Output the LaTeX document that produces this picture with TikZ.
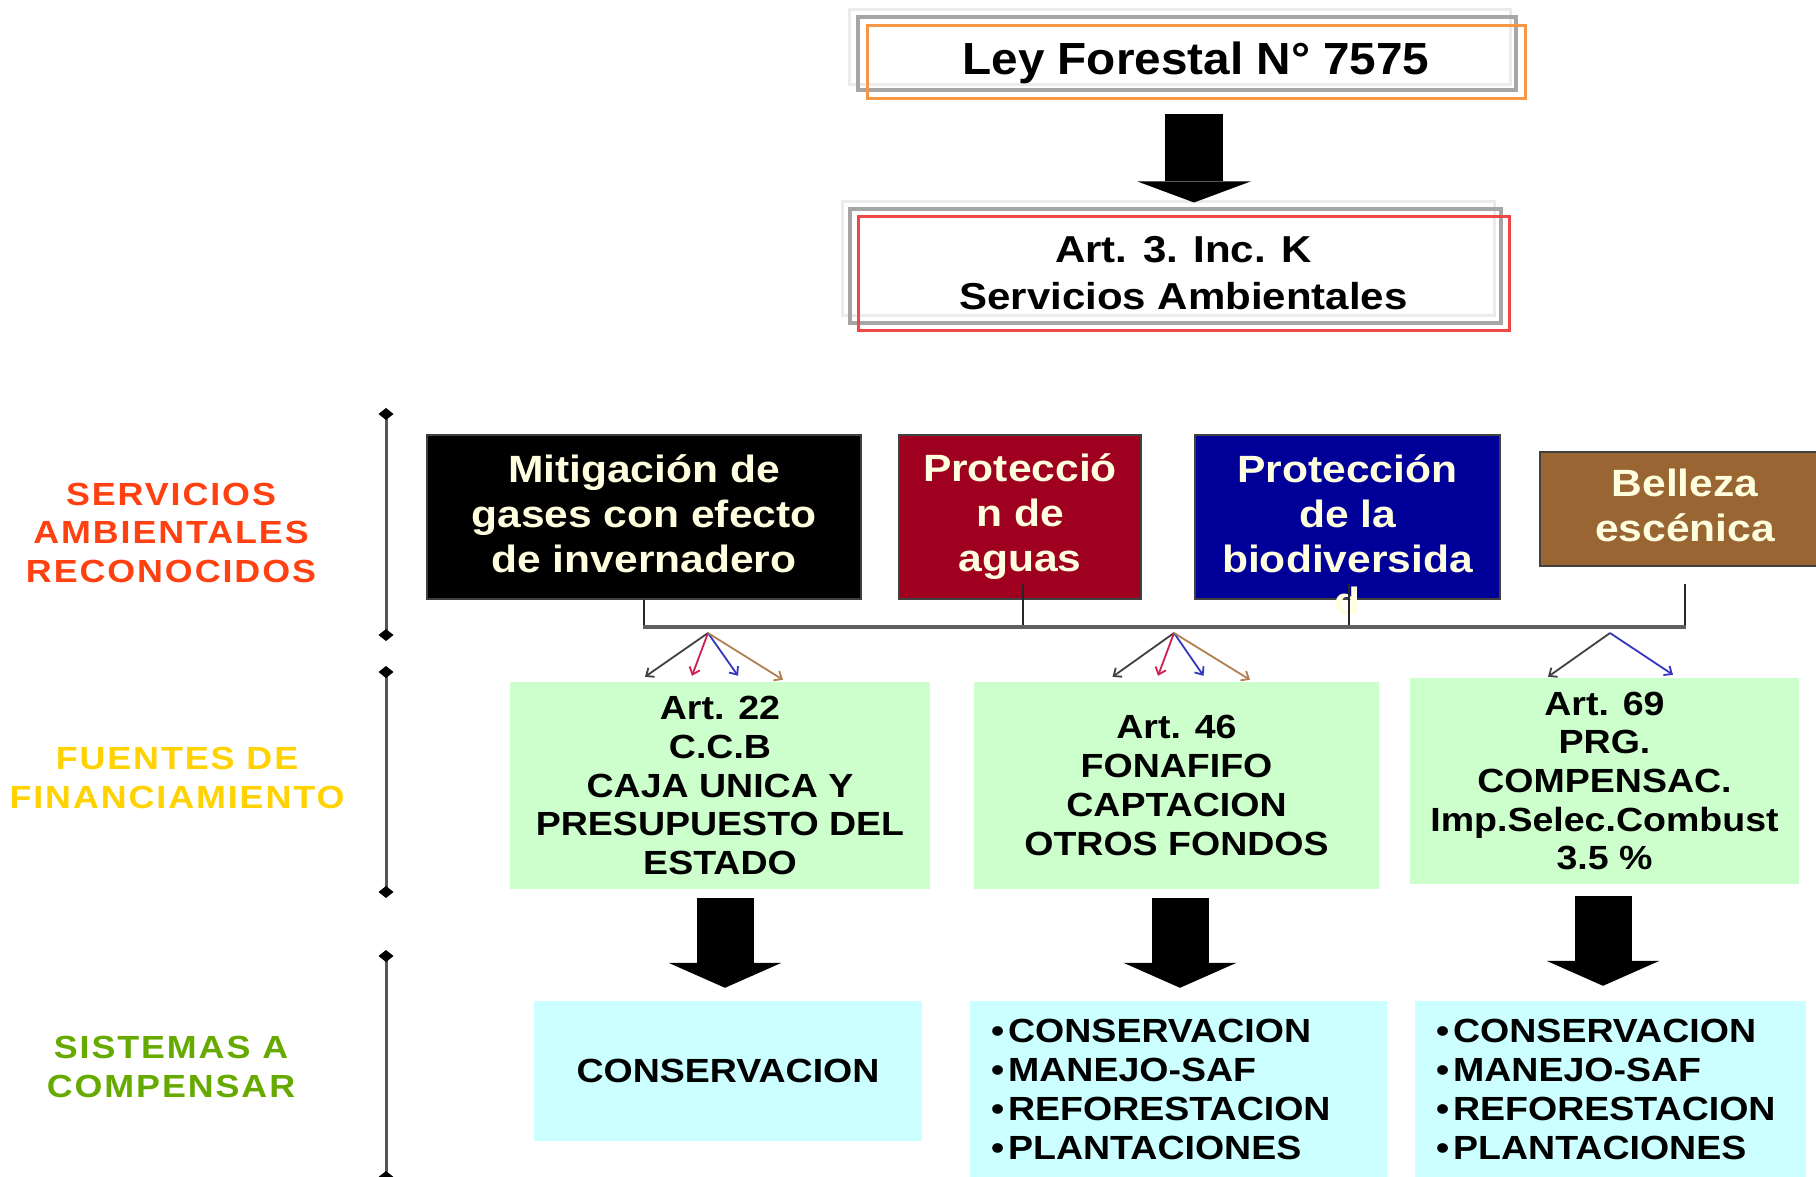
\documentclass[tikz,border=0pt]{standalone}
\usepackage{fontspec}
\setmainfont{Liberation Sans}
\newfontfamily\widef{Liberation Sans}[FakeStretch=1.12]
\newfontfamily\leyf{Liberation Sans}[FakeStretch=1.06]
\newfontfamily\labf{Liberation Sans}[FakeStretch=1.12,LetterSpace=6]
\usetikzlibrary{arrows.meta}
\definecolor{ora}{HTML}{F79646}
\definecolor{redb}{HTML}{F04848}
\definecolor{shgray}{HTML}{A6A6A6}
\definecolor{shlight}{HTML}{EBEBEB}
\definecolor{cream}{HTML}{FFFFE0}
\definecolor{srvred}{HTML}{A00020}
\definecolor{srvblue}{HTML}{000099}
\definecolor{srvbrown}{HTML}{996633}
\definecolor{lgreen}{HTML}{CCFFCC}
\definecolor{lcyan}{HTML}{CCFFFF}
\definecolor{labred}{HTML}{FF4010}
\definecolor{labyel}{HTML}{FFD200}
\definecolor{labgrn}{HTML}{66AA00}
\definecolor{barg}{HTML}{606060}
\definecolor{fblack}{HTML}{404040}
\definecolor{fred}{HTML}{CC2050}
\definecolor{fblue}{HTML}{3535C0}
\definecolor{fbrown}{HTML}{B08050}
\definecolor{axisc}{HTML}{555555}
\newcommand{\lowpad}[1]{\rule[-#1]{0pt}{#1}}
\begin{document}
\begin{tikzpicture}[x=1pt,y=-1pt,
  shbox/.style={inner sep=0pt},
  srv/.style={draw=fblack, line width=2.5pt, inner sep=0pt, text=cream, align=center,
    font=\widef\bfseries\fontsize{38}{45}\selectfont},
  grn/.style={fill=lgreen, inner sep=0pt, align=center,
    font=\widef\bfseries\fontsize{33.5}{38.7}\selectfont},
  cyn/.style={fill=lcyan, inner sep=0pt,
    font=\widef\bfseries\fontsize{33.5}{39}\selectfont},
  lab/.style={inner sep=0pt, align=center, font=\labf\bfseries\fontsize{32}{38.5}\selectfont},
  bigarrow/.style={line width=57pt, -{Triangle[length=25pt,width=113pt,line width=0pt]}},
  fanarrow/.style={line width=1.8pt, -{Straight Barb[length=6.5pt,width=11pt]}},
  conn/.style={draw=black!85, line width=2pt},
  barline/.style={draw=barg, line width=4pt},
  axisline/.style={draw=axisc, line width=3pt,
    {Diamond[length=12pt,width=15pt,color=black,line width=0pt]}-{Diamond[length=12pt,width=15pt,color=black,line width=0pt]}}
]
\useasboundingbox (0,0) rectangle (1816,1177);

% --- top boxes
\node[shbox, draw=shlight, line width=3pt, minimum width=661pt, minimum height=75pt] (leyl) at (1179.5,47.5) {};
\node[shbox, draw=shgray, line width=4pt, minimum width=658pt, minimum height=73pt] (leyg) at (1187,53.5) {};
\node[shbox, draw=ora, line width=3pt, minimum width=658pt, minimum height=73pt,
  font=\leyf\bfseries\fontsize{45}{54}\selectfont] (ley) at (1196,62.5) {Ley Forestal N° 7575};

\node[shbox, draw=shlight, line width=3pt, minimum width=652pt, minimum height=113pt] (artl) at (1168,258.5) {};
\node[shbox, draw=shgray, line width=4pt, minimum width=651pt, minimum height=114pt] (artg) at (1175.5,266) {};
\node[shbox, draw=redb, line width=3pt, minimum width=651pt, minimum height=113pt, align=center,
  font=\widef\bfseries\fontsize{37.5}{47}\selectfont] (art) at (1183.5,273.5) {Art. 3. Inc. K\\Servicios Ambientales};

\draw[line width=58pt, -{Triangle[length=21pt,width=113pt,line width=0pt]}]
  ([xshift=-2pt,yshift=-14pt]ley.south) -- ([xshift=10.5pt,yshift=13pt]art.north);

% --- left labels and axes
\node[lab, text=labred] (lab1) at (171,532.5) {SERVICIOS\\AMBIENTALES\\RECONOCIDOS};
\node[lab, text=labyel] (lab2) at (177,778) {FUENTES DE\\FINANCIAMIENTO};
\node[lab, text=labgrn] (lab3) at (171,1067) {SISTEMAS A\\COMPENSAR};

\coordinate (a1t) at (386,408);
\coordinate (a1b) at (386,641);
\coordinate (a2t) at (386,666);
\coordinate (a2b) at (386,898);
\coordinate (a3t) at (386,950);
\coordinate (a3b) at (386,1183);
\draw[axisline] (a1t) -- (a1b);
\draw[axisline] (a2t) -- (a2b);
\draw[axisline] (a3t) -- (a3b);

% --- services
\node[srv, fill=black, minimum width=434pt, minimum height=164pt] (s1) at (644,517) {Mitigación de\\gases con efecto\\de invernadero\lowpad{7pt}};
\node[srv, fill=srvred, minimum width=242pt, minimum height=164pt] (s2) at (1020,517) {Protecció\\n de\\aguas\lowpad{3pt}};
\node[srv, fill=srvblue, minimum width=305pt, minimum height=164pt] (s3) at (1347.5,517) {Protección\\de la\\biodiversida\lowpad{7pt}};
\node[srv, fill=srvbrown, minimum width=290pt, minimum height=114pt] (s4) at (1685,509) {Belleza\\escénica\lowpad{8pt}};
\node[inner sep=0pt, text=cream, font=\widef\bfseries\fontsize{38}{45}\selectfont] (s3d) at (1347,601) {d};

% --- bar and connectors
\coordinate (barL) at (644,627);
\coordinate (barR) at (1685,627);
\draw[conn] (s1.south) -- (s1.south |- barL);
\draw[conn] ([xshift=3pt,yshift=16pt]s2.south) -- ([xshift=3pt]s2.south |- barL);
\draw[conn] ([xshift=1pt,yshift=16pt]s3.south) -- ([xshift=1pt]s3.south |- barL);
\draw[conn] ([yshift=-17pt]s4.south) -- (s4.south |- barL);
\draw[barline] ([xshift=-1pt]barL) -- ([xshift=1pt]barR);

% --- funding boxes
\node[grn, minimum width=420pt, minimum height=207pt] (g1) at (720,785.5) {Art. 22\\C.C.B\\CAJA UNICA Y\\PRESUPUESTO DEL\\ESTADO};
\node[grn, minimum width=405pt, minimum height=207pt] (g2) at (1176.5,785.5) {Art. 46\\FONAFIFO\\CAPTACION\\OTROS FONDOS};
\node[grn, minimum width=389pt, minimum height=206pt] (g3) at (1604.5,781) {Art. 69\\PRG.\\COMPENSAC.\\Imp.Selec.Combust\\3.5 \%};

% --- fan arrows
\coordinate (f1) at (708,633);
\coordinate (f2) at (1174,633);
\coordinate (f3) at (1610,633);
\draw[fanarrow, draw=fblack] (f1) -- ([xshift=-75pt,yshift=5pt]g1.north);
\draw[fanarrow, draw=fred] (f1) -- ([xshift=-28pt,yshift=6pt]g1.north);
\draw[fanarrow, draw=fblue] (f1) -- ([xshift=18pt,yshift=6pt]g1.north);
\draw[fanarrow, draw=fbrown] (f1) -- ([xshift=63pt,yshift=2pt]g1.north);
\draw[fanarrow, draw=fblack] (f2) -- ([xshift=-64pt,yshift=5pt]g2.north);
\draw[fanarrow, draw=fred] (f2) -- ([xshift=-18.5pt,yshift=6pt]g2.north);
\draw[fanarrow, draw=fblue] (f2) -- ([xshift=27pt,yshift=6pt]g2.north);
\draw[fanarrow, draw=fbrown] (f2) -- ([xshift=73.5pt,yshift=2pt]g2.north);
\draw[fanarrow, draw=fblack] (f3) -- ([xshift=-56.5pt,yshift=1pt]g3.north);
\draw[fanarrow, draw=fblue] (f3) -- ([xshift=68.5pt,yshift=3pt]g3.north);

% --- systems boxes
\node[cyn, minimum width=388pt, minimum height=140pt, align=center] (c1) at (728,1071) {CONSERVACION};
\node[cyn, minimum width=417pt, minimum height=176pt, text width=375pt, align=left] (c2) at (1178.5,1089)
  {\textbullet\hspace{4pt}CONSERVACION\\\textbullet\hspace{4pt}MANEJO-SAF\\\textbullet\hspace{4pt}REFORESTACION\\\textbullet\hspace{4pt}PLANTACIONES};
\node[cyn, minimum width=391pt, minimum height=176pt, text width=349pt, align=left] (c3) at (1610.5,1089)
  {\textbullet\hspace{4pt}CONSERVACION\\\textbullet\hspace{4pt}MANEJO-SAF\\\textbullet\hspace{4pt}REFORESTACION\\\textbullet\hspace{4pt}PLANTACIONES};

% --- big arrows
\draw[bigarrow] ([xshift=5pt,yshift=-9pt]g1.south) -- ([xshift=-3pt,yshift=13pt]c1.north);
\draw[bigarrow] ([xshift=3.5pt,yshift=-9pt]g2.south) -- ([xshift=1.5pt,yshift=13pt]c2.north);
\draw[bigarrow] ([xshift=-1.5pt,yshift=-12pt]g3.south) -- ([xshift=-7.5pt,yshift=15pt]c3.north);
\end{tikzpicture}
\end{document}
